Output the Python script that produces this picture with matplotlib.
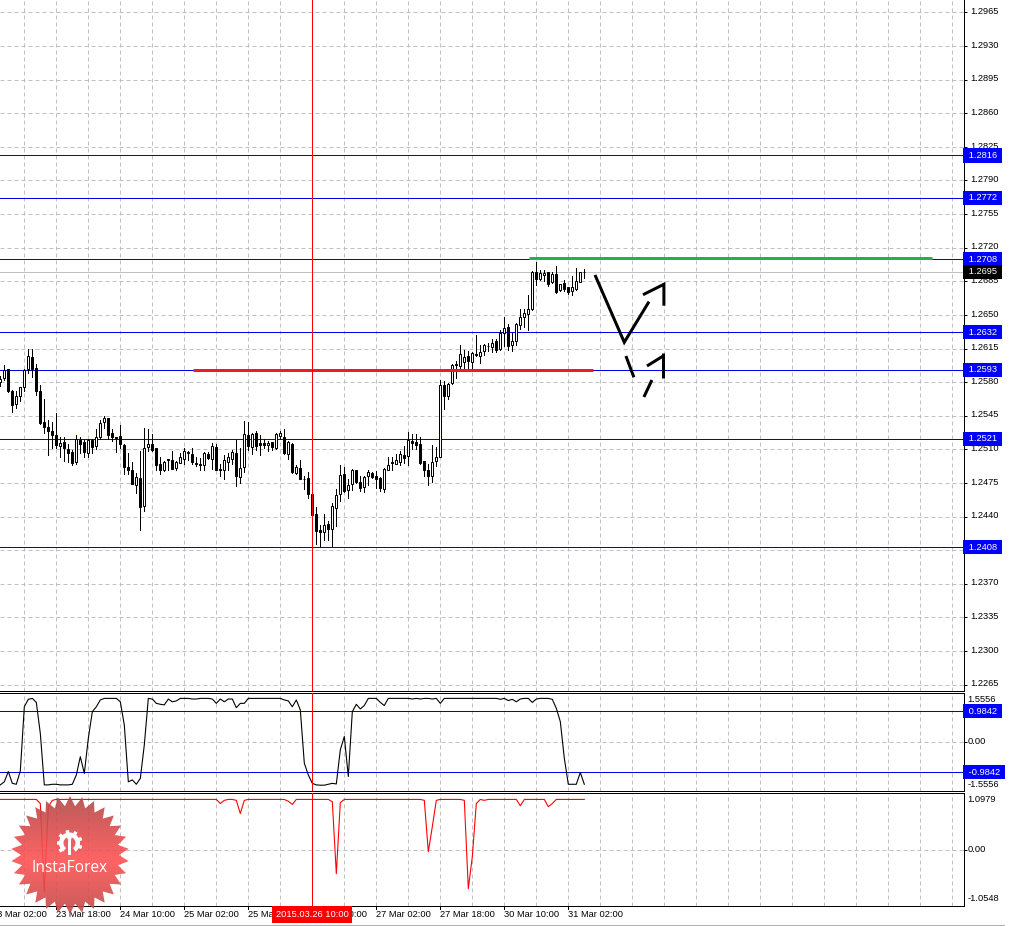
import numpy as np
import matplotlib
matplotlib.use("Agg")
import matplotlib.pyplot as plt
from matplotlib.patches import Polygon, Circle, Wedge, Rectangle
from matplotlib.transforms import blended_transform_factory

# hourly candles, EURUSD-style quotes
opens = [1.2580, 1.2584, 1.2594, 1.2571, 1.2557, 1.2566, 1.2575, 1.2594, 1.2606, 1.2595,
         1.2571, 1.2538, 1.2533, 1.2529, 1.2525, 1.2514, 1.2518, 1.2510, 1.2507, 1.2497,
         1.2520, 1.2518, 1.2506, 1.2520, 1.2513, 1.2523, 1.2538, 1.2543, 1.2527, 1.2523,
         1.2524, 1.2515, 1.2492, 1.2489, 1.2473, 1.2480, 1.2451, 1.2512, 1.2516, 1.2511,
         1.2495, 1.2489, 1.2500, 1.2499, 1.2491, 1.2496, 1.2500, 1.2507, 1.2505, 1.2496,
         1.2495, 1.2494, 1.2505, 1.2500, 1.2512, 1.2490, 1.2489, 1.2497, 1.2500, 1.2506,
         1.2481, 1.2492, 1.2525, 1.2512, 1.2527, 1.2517, 1.2517, 1.2515, 1.2518, 1.2511,
         1.2524, 1.2523, 1.2505, 1.2516, 1.2485, 1.2491, 1.2479, 1.2480, 1.2464, 1.2443,
         1.2426, 1.2424, 1.2432, 1.2427, 1.2449, 1.2463, 1.2484, 1.2468, 1.2474, 1.2489,
         1.2476, 1.2471, 1.2482, 1.2485, 1.2482, 1.2480, 1.2469, 1.2489, 1.2497, 1.2495,
         1.2497, 1.2504, 1.2503, 1.2519, 1.2518, 1.2516, 1.2498, 1.2488, 1.2482, 1.2498,
         1.2502, 1.2577, 1.2566, 1.2579, 1.2599, 1.2597, 1.2601, 1.2607, 1.2601, 1.2609,
         1.2607, 1.2612, 1.2618, 1.2617, 1.2623, 1.2614, 1.2631, 1.2637, 1.2619, 1.2623,
         1.2640, 1.2648, 1.2651, 1.2656, 1.2695, 1.2687, 1.2692, 1.2695, 1.2684, 1.2693,
         1.2676, 1.2683, 1.2679, 1.2675, 1.2677, 1.2684, 1.2695]
highs = [1.2586, 1.2598, 1.2594, 1.2572, 1.2571, 1.2575, 1.2594, 1.2615, 1.2614, 1.2599,
         1.2577, 1.2562, 1.2541, 1.2538, 1.2548, 1.2523, 1.2523, 1.2516, 1.2509, 1.2525,
         1.2523, 1.2520, 1.2521, 1.2521, 1.2531, 1.2541, 1.2545, 1.2543, 1.2531, 1.2523,
         1.2535, 1.2516, 1.2506, 1.2497, 1.2485, 1.2508, 1.2532, 1.2531, 1.2526, 1.2511,
         1.2502, 1.2498, 1.2500, 1.2508, 1.2498, 1.2506, 1.2511, 1.2508, 1.2511, 1.2502,
         1.2501, 1.2507, 1.2507, 1.2517, 1.2516, 1.2495, 1.2504, 1.2506, 1.2509, 1.2520,
         1.2511, 1.2540, 1.2539, 1.2527, 1.2529, 1.2525, 1.2521, 1.2519, 1.2518, 1.2527,
         1.2529, 1.2531, 1.2519, 1.2517, 1.2494, 1.2499, 1.2482, 1.2486, 1.2465, 1.2450,
         1.2431, 1.2443, 1.2435, 1.2454, 1.2469, 1.2494, 1.2492, 1.2479, 1.2490, 1.2489,
         1.2482, 1.2482, 1.2488, 1.2486, 1.2487, 1.2481, 1.2491, 1.2502, 1.2502, 1.2505,
         1.2508, 1.2513, 1.2528, 1.2526, 1.2526, 1.2523, 1.2498, 1.2495, 1.2515, 1.2512,
         1.2582, 1.2581, 1.2579, 1.2599, 1.2602, 1.2619, 1.2613, 1.2612, 1.2611, 1.2629,
         1.2619, 1.2620, 1.2621, 1.2625, 1.2625, 1.2634, 1.2648, 1.2641, 1.2631, 1.2642,
         1.2656, 1.2656, 1.2671, 1.2696, 1.2705, 1.2697, 1.2697, 1.2695, 1.2695, 1.2701,
         1.2682, 1.2686, 1.2679, 1.2690, 1.2699, 1.2695, 1.2698]
lows = [1.2576, 1.2582, 1.2570, 1.2549, 1.2553, 1.2560, 1.2571, 1.2590, 1.2585, 1.2567,
        1.2536, 1.2527, 1.2504, 1.2511, 1.2511, 1.2502, 1.2498, 1.2497, 1.2494, 1.2495,
        1.2506, 1.2502, 1.2502, 1.2506, 1.2510, 1.2521, 1.2532, 1.2521, 1.2519, 1.2507,
        1.2511, 1.2484, 1.2484, 1.2474, 1.2465, 1.2426, 1.2446, 1.2508, 1.2508, 1.2489,
        1.2484, 1.2487, 1.2489, 1.2490, 1.2489, 1.2496, 1.2495, 1.2499, 1.2495, 1.2493,
        1.2489, 1.2489, 1.2500, 1.2490, 1.2488, 1.2482, 1.2479, 1.2488, 1.2495, 1.2472,
        1.2475, 1.2486, 1.2509, 1.2505, 1.2509, 1.2504, 1.2511, 1.2508, 1.2509, 1.2510,
        1.2521, 1.2505, 1.2500, 1.2485, 1.2484, 1.2479, 1.2469, 1.2459, 1.2441, 1.2411,
        1.2409, 1.2416, 1.2416, 1.2409, 1.2430, 1.2456, 1.2466, 1.2459, 1.2468, 1.2475,
        1.2467, 1.2466, 1.2473, 1.2480, 1.2470, 1.2467, 1.2466, 1.2489, 1.2489, 1.2495,
        1.2494, 1.2496, 1.2494, 1.2510, 1.2510, 1.2495, 1.2482, 1.2473, 1.2476, 1.2493,
        1.2502, 1.2552, 1.2562, 1.2578, 1.2584, 1.2593, 1.2595, 1.2594, 1.2593, 1.2607,
        1.2600, 1.2608, 1.2612, 1.2611, 1.2611, 1.2613, 1.2618, 1.2613, 1.2612, 1.2619,
        1.2635, 1.2637, 1.2634, 1.2655, 1.2681, 1.2686, 1.2685, 1.2680, 1.2683, 1.2673,
        1.2675, 1.2675, 1.2672, 1.2671, 1.2676, 1.2684, 1.2688]
closes = [1.2583, 1.2593, 1.2571, 1.2556, 1.2566, 1.2575, 1.2593, 1.2607, 1.2594, 1.2571,
          1.2537, 1.2533, 1.2529, 1.2525, 1.2515, 1.2517, 1.2511, 1.2506, 1.2496, 1.2521,
          1.2516, 1.2507, 1.2520, 1.2512, 1.2523, 1.2537, 1.2543, 1.2525, 1.2523, 1.2522,
          1.2516, 1.2492, 1.2489, 1.2474, 1.2481, 1.2450, 1.2511, 1.2516, 1.2509, 1.2494,
          1.2489, 1.2497, 1.2499, 1.2490, 1.2497, 1.2502, 1.2508, 1.2506, 1.2497, 1.2495,
          1.2494, 1.2506, 1.2501, 1.2513, 1.2489, 1.2488, 1.2499, 1.2502, 1.2507, 1.2482,
          1.2491, 1.2526, 1.2513, 1.2526, 1.2514, 1.2515, 1.2515, 1.2517, 1.2512, 1.2526,
          1.2527, 1.2506, 1.2518, 1.2486, 1.2492, 1.2479, 1.2479, 1.2463, 1.2442, 1.2425,
          1.2424, 1.2431, 1.2427, 1.2451, 1.2462, 1.2483, 1.2467, 1.2473, 1.2489, 1.2476,
          1.2470, 1.2481, 1.2486, 1.2481, 1.2479, 1.2470, 1.2490, 1.2494, 1.2496, 1.2499,
          1.2505, 1.2501, 1.2520, 1.2517, 1.2515, 1.2496, 1.2488, 1.2482, 1.2497, 1.2502,
          1.2577, 1.2566, 1.2578, 1.2598, 1.2598, 1.2609, 1.2606, 1.2602, 1.2610, 1.2608,
          1.2611, 1.2619, 1.2618, 1.2621, 1.2613, 1.2631, 1.2636, 1.2618, 1.2623, 1.2641,
          1.2648, 1.2652, 1.2656, 1.2695, 1.2687, 1.2694, 1.2694, 1.2682, 1.2693, 1.2674,
          1.2682, 1.2677, 1.2674, 1.2679, 1.2685, 1.2695, 1.2695]

osc_black = [-1.39, -1.29, -0.96, -1.34, -1.37, -0.94, 1.13, 1.37, 1.40, 1.27,
             0.27, -1.39, -1.39, -1.37, -1.37, -1.39, -1.39, -1.39, -1.37, -1.07,
             -0.48, -1.02, 0.11, 0.97, 1.13, 1.35, 1.40, 1.40, 1.40, 1.40,
             1.29, 0.54, -1.29, -1.23, -1.37, -1.18, -0.10, 1.40, 1.38, 1.24,
             1.21, 1.19, 1.38, 1.29, 1.32, 1.40, 1.40, 1.40, 1.38, 1.38,
             1.40, 1.40, 1.40, 1.38, 1.24, 1.38, 1.29, 1.38, 1.38, 1.10,
             1.24, 1.24, 1.40, 1.40, 1.40, 1.40, 1.40, 1.40, 1.40, 1.40,
             1.40, 1.35, 1.32, 1.13, 1.35, 1.03, -0.69, -1.07, -1.34, -1.39,
             -1.40, -1.40, -1.37, -1.34, -1.36, -0.26, 0.17, -1.12, 0.97, 1.21,
             1.06, 1.17, 1.40, 1.40, 1.40, 1.27, 1.17, 1.40, 1.40, 1.40,
             1.40, 1.40, 1.40, 1.38, 1.40, 1.38, 1.40, 1.40, 1.38, 1.40,
             1.24, 1.40, 1.40, 1.40, 1.40, 1.40, 1.40, 1.40, 1.40, 1.40,
             1.40, 1.40, 1.40, 1.40, 1.40, 1.37, 1.40, 1.33, 1.37, 1.29,
             1.38, 1.40, 1.40, 1.27, 1.38, 1.40, 1.40, 1.40, 1.37, 1.08,
             0.65, -0.53, -1.37, -1.37, -1.37, -0.99, -1.37]
osc_red = [1.12, 1.12, 1.12, 1.12, 1.12, 1.12, 1.12, 1.12, 1.12, 1.12,
           1.03, -0.91, 0.96, 1.10, 1.12, 1.12, 1.12, 1.12, 1.12, 1.12,
           1.12, 1.12, 1.12, 1.12, 1.12, 1.12, 1.12, 1.12, 1.12, 1.12,
           1.12, 1.12, 1.12, 1.12, 1.12, 1.12, 1.12, 1.12, 1.12, 1.12,
           1.12, 1.12, 1.12, 1.12, 1.12, 1.12, 1.12, 1.12, 1.12, 1.12,
           1.12, 1.12, 1.12, 1.12, 1.12, 1.03, 1.10, 1.12, 1.12, 1.10,
           0.81, 1.10, 1.12, 1.12, 1.12, 1.12, 1.12, 1.12, 1.12, 1.12,
           1.12, 1.12, 1.08, 1.01, 1.12, 1.12, 1.12, 1.12, 1.12, 1.12,
           1.12, 1.12, 1.12, 1.07, -0.51, 1.05, 1.12, 1.12, 1.12, 1.12,
           1.12, 1.12, 1.12, 1.12, 1.12, 1.12, 1.12, 1.12, 1.12, 1.12,
           1.12, 1.12, 1.12, 1.12, 1.12, 1.12, 1.10, -0.03, 0.52, 1.10,
           1.12, 1.12, 1.12, 1.12, 1.12, 1.12, 1.10, -0.84, -0.14, 1.03,
           1.12, 1.10, 1.12, 1.12, 1.12, 1.12, 1.12, 1.12, 1.12, 1.12,
           0.98, 1.12, 1.12, 1.12, 1.12, 1.12, 1.12, 0.96, 1.03, 1.12,
           1.12, 1.12, 1.12, 1.12, 1.12, 1.12, 1.12]

price_ticks = [1.2965, 1.2930, 1.2895, 1.2860, 1.2825, 1.2790, 1.2755, 1.2720, 1.2685,
               1.2650, 1.2615, 1.2580, 1.2545, 1.2510, 1.2475, 1.2440, 1.2405, 1.2370,
               1.2335, 1.2300, 1.2265]
levels = [1.2816, 1.2772, 1.2708, 1.2632, 1.2593, 1.2521, 1.2408]
bid = 1.2695
osc_levels = [0.9842, -0.9842]
# bar index of each time label
time_bars = [-2, 14, 30, 46, 62, 78, 94, 110, 126, 142]
time_labels = ["23 Mar 02:00", "23 Mar 18:00", "24 Mar 10:00", "25 Mar 02:00", "25 Mar 18:00",
               "26 Mar 10:00", "27 Mar 02:00", "27 Mar 18:00", "30 Mar 10:00", "31 Mar 02:00"]
cursor_bar = 78
cursor_label = "2015.03.26 10:00"

# drawn-by-hand objects, (bar, price)
red_segment = ([48.2, 148.2], [1.2593, 1.2593])
green_segment = ([132.2, 232.9], [1.2709, 1.2709])
sketch_lines = [
    ([148.67, 155.99, 162.17], [1.26916, 1.26215, 1.26638]),
    ([160.67, 165.9, 165.9], [1.26710, 1.26819, 1.26596]),
    ([156.4, 158.4], [1.26072, 1.25850]),
    ([162.9, 160.9], [1.25822, 1.25645]),
    ([161.67, 165.7], [1.25968, 1.26072]),
    ([165.7, 165.7], [1.26107, 1.25840]),
]

W, H = 1014, 926
PX = 0.72  # one pixel in points at dpi 100
FS = 6.7
BLUE = "#0000e6"
GRID = "#c0c0c0"
plt.rcParams["font.family"] = "Liberation Sans"


def make_axes(fig, top, bottom, ylim):
    ax = fig.add_axes([0, 1 - bottom / H, 963.5 / W, (bottom - top) / H])
    ax.set_xlim(-0.08, 240.8)
    ax.set_ylim(*ylim)
    ax.set_xticks(np.arange(6, 240, 8))
    ax.grid(True, color=GRID, linestyle=(0, (4, 3)), linewidth=PX)
    ax.set_axisbelow(True)
    ax.tick_params(axis="x", length=0, labelbottom=False)
    ax.yaxis.tick_right()
    ax.tick_params(axis="y", length=3 * PX, width=PX, color="black", labelright=False)
    ax.spines["left"].set_visible(False)
    for s in ("top", "bottom", "right"):
        ax.spines[s].set_linewidth(PX)
    return ax


def box_label(ax, value, text, color):
    tr = blended_transform_factory(ax.transAxes, ax.transData)
    ax.text(1.0022, value, " " + text + " ", transform=tr, color="white", fontsize=FS,
            va="center", ha="left", zorder=8,
            bbox=dict(facecolor=color, edgecolor="none", pad=1.9))


fig = plt.figure(figsize=(W / 100, H / 100), dpi=100, facecolor="white")
ax1 = make_axes(fig, 0, 690.5, (1.22589, 1.29779))
ax2 = make_axes(fig, 692.5, 790.5, (-1.571, 1.59))
ax3 = make_axes(fig, 792.5, 905.5, (-1.211, 1.272))
ax1.spines["top"].set_visible(False)

# main price panel
bars = np.arange(len(opens))
o, h, l, c = map(np.array, (opens, highs, lows, closes))
ax1.set_yticks(price_ticks)
for p in price_ticks:
    ax1.annotate(f"{p:.4f}", (1, p), xycoords=("axes fraction", "data"), xytext=(4.7, 0.6),
                 textcoords="offset points", fontsize=FS, va="center", ha="left")
for lev in levels:
    ax1.axhline(lev, color=BLUE, linewidth=PX, zorder=2)
    box_label(ax1, lev, f"{lev:.4f}", "#0000ff")
ax1.axhline(bid, color=GRID, linewidth=PX, zorder=2)
box_label(ax1, bid, f"{bid:.4f}", "black")

wicks = ax1.vlines(bars, l, h, color="black", linewidth=PX, zorder=3)
wicks.set_antialiased(False)
body_lo = np.minimum(o, c)
body_hi = np.maximum(o, c)
up = c >= o
ax1.bar(bars[up], (body_hi - body_lo)[up], bottom=body_lo[up], width=0.5, facecolor="white",
        edgecolor="black", linewidth=PX, zorder=4)
ax1.bar(bars[~up], (body_hi - body_lo)[~up], bottom=body_lo[~up], width=0.5, facecolor="black",
        edgecolor="black", linewidth=PX, zorder=4)

ax1.plot(*red_segment, color="#ed1c24", linewidth=3 * PX, solid_capstyle="butt", zorder=5)
ax1.plot(*green_segment, color="#22b14c", linewidth=3 * PX, solid_capstyle="butt", zorder=5)
for xs, ys in sketch_lines:
    ax1.plot(xs, ys, color="black", linewidth=3 * PX, solid_capstyle="butt",
             solid_joinstyle="miter", zorder=5)

# first oscillator
ax2.set_yticks([0])
for lev in osc_levels:
    ax2.axhline(lev, color=BLUE, linewidth=PX, zorder=2)
    box_label(ax2, lev, f"{lev:.4f}", "#0000ff")
ax2.plot(bars, osc_black, color="black", linewidth=PX * 1.1, zorder=3)
ax2.text(1.0042, 0.93, "1.5556", transform=ax2.transAxes, fontsize=FS, va="center")
ax2.text(1.0042, 0.50, "0.00", transform=ax2.transAxes, fontsize=FS, va="center")
ax2.text(1.0042, 0.066, "-1.5556", transform=ax2.transAxes, fontsize=FS, va="center")

# second oscillator
ax3.set_yticks([0])
ax3.plot(bars, osc_red, color="red", linewidth=PX * 1.1, zorder=3)
ax3.text(1.0042, 0.94, "1.0979", transform=ax3.transAxes, fontsize=FS, va="center")
ax3.text(1.0042, 0.498, "0.00", transform=ax3.transAxes, fontsize=FS, va="center")
ax3.text(1.0042, 0.065, "-1.0548", transform=ax3.transAxes, fontsize=FS, va="center")

for ax in (ax1, ax2, ax3):
    ax.axvline(cursor_bar, color="red", linewidth=PX, zorder=6)

# time axis
tr = blended_transform_factory(ax3.transData, ax3.transAxes)
for b, t in zip(time_bars, time_labels):
    ax3.plot([b, b], [0, -3 / 113], transform=tr, color="black", linewidth=PX, clip_on=False)
    ax3.text(b, -0.08, t, transform=tr, fontsize=FS, va="center", ha="left")
ax3.text(cursor_bar, -0.08, cursor_label, transform=tr, fontsize=FS, color="white", va="center",
         ha="center", zorder=9, bbox=dict(facecolor="red", edgecolor="none", pad=2.6))

# footer rule and logo live on a pixel-coordinate overlay
over = fig.add_axes([0, 0, 1, 1], facecolor="none")
over.set_xlim(0, W)
over.set_ylim(H, 0)
over.axis("off")
over.plot([0, 1004], [925, 925], color="#b0b0b0", linewidth=PX)

cx, cy, n_spikes = 70, 855, 30
angles = np.linspace(0, 2 * np.pi, 2 * n_spikes, endpoint=False) - np.pi / 2
radii = np.where(np.arange(2 * n_spikes) % 2 == 0, 59, 49)
star = np.column_stack([cx + radii * np.cos(angles), cy + radii * np.sin(angles)])
rows = np.linspace(0, 1, 120)
profile = 1 - np.abs(rows - 0.55) / 0.55
colors = np.zeros((120, 1, 3))
colors[:, 0, 0] = (178 + 77 * profile) / 255
colors[:, 0, 1] = (72 + 10 * profile) / 255
colors[:, 0, 2] = (72 + 10 * profile) / 255
im = over.imshow(colors, extent=(cx - 60, cx + 60, cy + 60, cy - 60), aspect="auto",
                 alpha=0.9, zorder=20)
over.set_xlim(0, W)
over.set_ylim(H, 0)
clip = Polygon(star, closed=True, transform=over.transData, facecolor="none", edgecolor="none")
over.add_patch(clip)
im.set_clip_path(clip)

# gear mark
gx, gy = 69.5, 843
over.add_patch(Wedge((gx, gy), 10.5, 125, 55, width=4.5, facecolor="white", edgecolor="none", zorder=21))
for a in np.arange(140, 400 + 1, 40):
    ar = np.deg2rad(a)
    over.plot([gx + 9 * np.cos(ar), gx + 13 * np.cos(ar)],
              [gy + 9 * np.sin(ar), gy + 13 * np.sin(ar)],
              color="white", linewidth=3.5 * PX, solid_capstyle="butt", zorder=21)
over.add_patch(Circle((gx, gy - 5), 2.2, facecolor="white", edgecolor="none", zorder=21))
over.add_patch(Rectangle((gx - 1.2, gy - 3), 2.4, 15, facecolor="white", edgecolor="none", zorder=21))
over.text(cx, 868.5, "InstaForex", color="white", fontsize=11.2, ha="center", va="center",
          family="Open Sans", zorder=21)

fig.savefig("out.png", dpi=100)
